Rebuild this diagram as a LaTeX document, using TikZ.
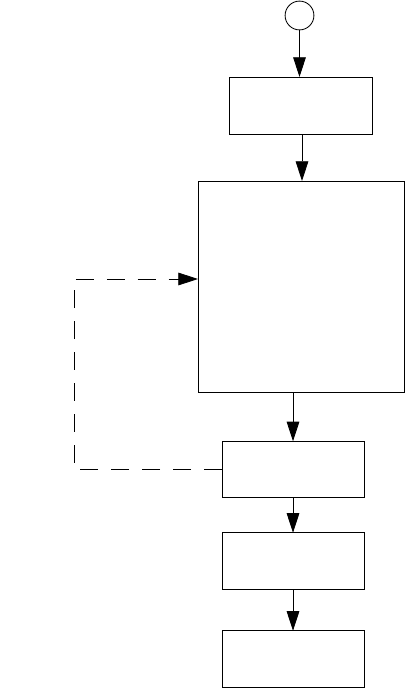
\documentclass[tikz,border=0pt]{standalone}
\usetikzlibrary{arrows.meta}

\begin{document}
\begin{tikzpicture}[x=0.025cm,y=-0.025cm,line width=0.6pt,
  box/.style={draw,rectangle,inner sep=0pt,outer sep=0pt,minimum width=3.55cm,minimum height=1.41cm},
  flow/.style={-{Triangle[length=14pt,width=9pt]}},
  fback/.style={flow,dash pattern=on 13pt off 9pt}]
\useasboundingbox (0,0) rectangle (406,689);
\node[draw,circle,inner sep=0pt,minimum size=0.72cm] (start) at (299.5,15.5) {};
\node[box,minimum width=3.575cm,minimum height=1.425cm] (b1) at (300.5,105.5) {};
\node[box,minimum width=5.15cm,minimum height=5.275cm] (big) at (301,286.5) {};
\node[box] (b2) at (293,469.5) {};
\node[box] (b3) at (293,561) {};
\node[box] (b4) at (293,659) {};
\coordinate (fb) at (74,279);
\draw[flow] (start.south) -- (start.south |- b1.north);
\draw[flow] ([xshift=1.5*0.025cm]b1.south) -- ([xshift=1.5*0.025cm]b1.south |- big.north);
\draw[flow] (b2.north |- big.south) -- (b2.north);
\draw[flow] (b2) -- (b3);
\draw[flow] (b3) -- (b4);
\draw[fback] (b2.west) -| (fb) -- (fb -| big.west);
\end{tikzpicture}
\end{document}
